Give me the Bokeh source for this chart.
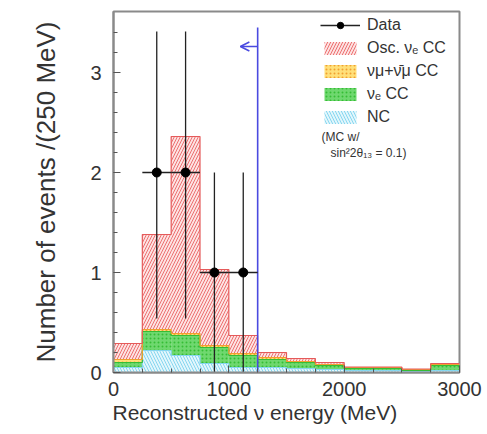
import numpy as np
from bokeh.plotting import figure
from bokeh.models import (Range1d, Legend, LegendItem, Label, Arrow, OpenHead,
                          FixedTicker, Title)
from bokeh.embed import file_html
from bokeh.resources import INLINE

# ---- data -------------------------------------------------------------
bin_edges = [0, 250, 500, 750, 1000, 1250, 1500, 1750, 2000, 2250, 2500, 2750, 3000]
nc_events      = [0.05, 0.22, 0.17, 0.09, 0.05, 0.05, 0.04, 0.03, 0.02, 0.02, 0.01, 0.02]
nue_cc_events  = [0.05, 0.19, 0.20, 0.16, 0.12, 0.08, 0.06, 0.04, 0.02, 0.02, 0.01, 0.05]
numu_cc_events = [0.03, 0.02, 0.02, 0.02, 0.02, 0.02, 0.01, 0.01, 0.01, 0.01, 0.01, 0.01]
osc_nue_events = [0.16, 0.95, 1.97, 0.76, 0.18, 0.05, 0.03, 0.02, 0.005, 0.005, 0.005, 0.01]

data_x = [375, 625, 875, 1125]
data_y = [2, 2, 1, 1]
data_err_lo = [1.46, 1.46, 1.0, 1.0]
data_err_hi = [1.41, 1.41, 1.0, 1.0]
data_x_halfwidth = 125

cut_energy = 1250
cut_top = 3.45
arrow_y = 3.26
arrow_end = 1100

x_ticks = [0, 1000, 2000, 3000]
y_ticks = [0, 1, 2, 3]

# ---- derived ----------------------------------------------------------
edges = np.array(bin_edges, dtype=float)
left, right = edges[:-1], edges[1:]
comps = [np.array(nc_events), np.array(nue_cc_events),
         np.array(numu_cc_events), np.array(osc_nue_events)]
cum = np.cumsum(np.vstack(comps), axis=0)
bottoms = np.vstack([np.zeros(len(left)), cum[:-1]])

FONT = "Liberation Sans"

p = figure(width=487, height=434, output_backend="svg", toolbar_location=None,
           x_range=Range1d(0, 3000), y_range=Range1d(0, 3.61),
           min_border_left=113, min_border_right=28, min_border_top=11,
           min_border_bottom=62)
p.background_fill_color = "white"
p.border_fill_color = "white"
p.xgrid.visible = False
p.ygrid.visible = False
p.outline_line_color = "#8a8a8a"
p.outline_line_width = 2

styles = [
    dict(fill_color="#e2f6fc", hatch_pattern="\\", hatch_color="#86d6ef", hatch_scale=6, hatch_weight=1, line="#86d6ef"),
    dict(fill_color="#6fd86f", hatch_pattern=".", hatch_color="#35bd35", hatch_scale=4, hatch_weight=1, line="#35bd35"),
    dict(fill_color="#ffe07a", hatch_pattern=".", hatch_color="#f0a030", hatch_scale=4, hatch_weight=1, line="#f0a030"),
    dict(fill_color="#fde2e2", hatch_pattern="/", hatch_color="#ec7070", hatch_scale=6, hatch_weight=1, line="#e55a5a"),
]
quad_renderers = []
for k, st in enumerate(styles):
    r = p.quad(left=left, right=right, bottom=bottoms[k], top=cum[k],
               fill_color=st["fill_color"], hatch_pattern=st["hatch_pattern"],
               hatch_color=st["hatch_color"], hatch_scale=st["hatch_scale"],
               hatch_weight=st["hatch_weight"], line_alpha=0)
    quad_renderers.append(r)
for k, st in enumerate(styles):
    p.step(x=list(edges), y=list(cum[k]) + [cum[k][-1]], mode="after",
           line_color=st["line"], line_width=1.2)

# cut line and arrow
p.segment(x0=[cut_energy], y0=[0], x1=[cut_energy], y1=[cut_top],
          line_color="#4a4ae0", line_width=1.6)
p.add_layout(Arrow(x_start=cut_energy, y_start=arrow_y, x_end=arrow_end, y_end=arrow_y,
                   line_color="#4a4ae0", line_width=1.6,
                   end=OpenHead(size=9, line_color="#4a4ae0", line_width=1.6)))

# data
dx = np.array(data_x, dtype=float)
dy = np.array(data_y, dtype=float)
p.segment(x0=dx, y0=dy - np.array(data_err_lo), x1=dx, y1=dy + np.array(data_err_hi),
          line_color="#222222", line_width=1.3)
hseg = p.segment(x0=dx - data_x_halfwidth, y0=dy, x1=dx + data_x_halfwidth, y1=dy,
                 line_color="#222222", line_width=1.3)
dots = p.scatter(dx, dy, size=9, fill_color="black", line_color="black")

# axes
for ax in (p.xaxis[0], p.yaxis[0]):
    ax.axis_line_color = "#8a8a8a"
    ax.axis_line_width = 2
    ax.major_tick_in = 7
    ax.major_tick_out = 0
    ax.minor_tick_in = 4
    ax.minor_tick_out = 0
    ax.major_tick_line_color = "#555555"
    ax.minor_tick_line_color = "#555555"
    ax.major_label_text_font = FONT
    ax.major_label_text_font_size = "20px"
    ax.major_label_text_color = "#333333"
    ax.axis_label_text_font = FONT
    ax.axis_label_text_font_style = "normal"
    ax.axis_label_text_color = "#333333"

p.xaxis[0].ticker = FixedTicker(ticks=x_ticks, minor_ticks=list(range(0, 3001, 250)))
p.yaxis[0].ticker = FixedTicker(ticks=y_ticks, minor_ticks=[i / 5 for i in range(0, 18)])
p.yaxis[0].axis_label = "Number of events /(250 MeV)"
p.yaxis[0].axis_label_text_font_size = "26px"
p.xaxis[0].major_label_standoff = 9
p.yaxis[0].major_label_standoff = 12
p.yaxis[0].axis_label_standoff = 26

# x-axis title, left-aligned near the start of the axis (as in the original)
p.add_layout(Title(text="Reconstructed ν energy (MeV)", align="left", offset=-1,
                   standoff=0, text_font=FONT, text_font_size="21px",
                   text_font_style="normal", text_color="#333333"), "below")

# legend
items = [
    LegendItem(label="Data", renderers=[hseg, dots]),
    LegendItem(label="Osc. νₑ CC", renderers=[quad_renderers[3]]),
    LegendItem(label="νμ+ν̄μ CC", renderers=[quad_renderers[2]]),
    LegendItem(label="νₑ CC", renderers=[quad_renderers[1]]),
    LegendItem(label="NC", renderers=[quad_renderers[0]]),
]
legend = Legend(items=items, location=(207, 246), glyph_width=40, glyph_height=16,
                spacing=5, padding=0, margin=0, label_standoff=7,
                label_text_font=FONT, label_text_font_size="16px",
                label_text_color="#333333", border_line_alpha=0,
                background_fill_alpha=0)
p.add_layout(legend)

p.add_layout(Label(x=208, y=236, x_units="screen", y_units="screen",
                   text="(MC w/", text_font=FONT, text_font_size="12px",
                   text_color="#333333", text_baseline="middle"))
p.add_layout(Label(x=217, y=220, x_units="screen", y_units="screen",
                   text="sin²2θ₁₃ = 0.1)", text_font=FONT, text_font_size="12px",
                   text_color="#333333", text_baseline="middle"))

open("out.html", "w").write(file_html(p, INLINE))
